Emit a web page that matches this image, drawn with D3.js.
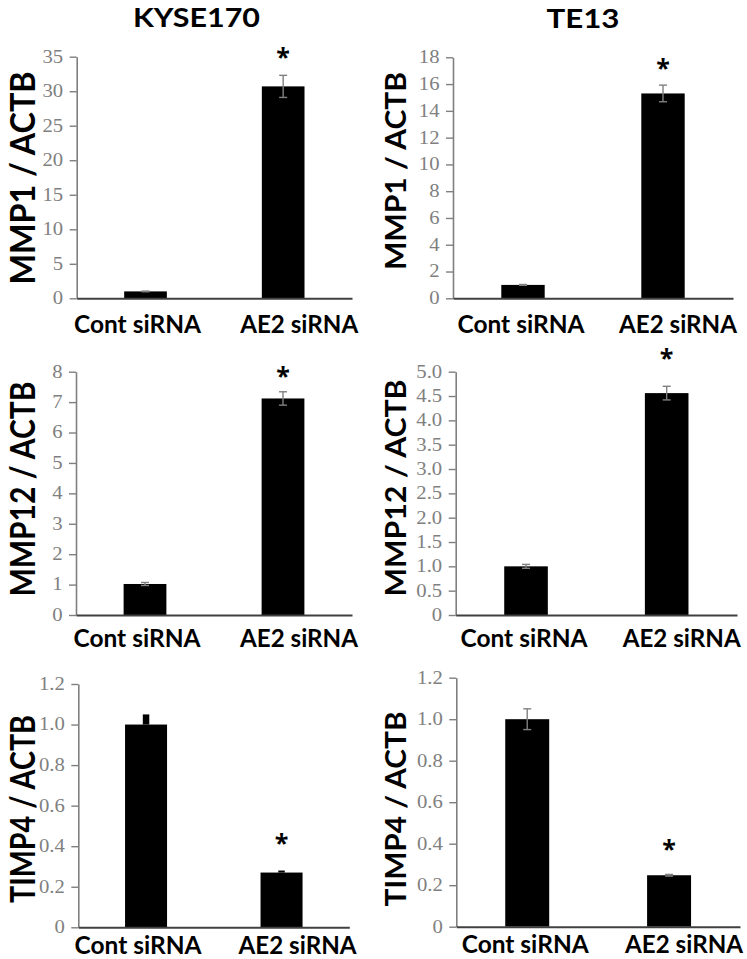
<!DOCTYPE html>
<html>
<head>
<meta charset="utf-8">
<script src="https://cdn.jsdelivr.net/npm/d3@7"></script>
<style>
  html, body { margin: 0; padding: 0; background: #ffffff; }
  svg { display: block; }
  .ticklab { font-family: "Liberation Serif", "Times New Roman", "DejaVu Serif", serif; }
</style>
</head>
<body>
<script>
// ---------------- DATA ----------------
const categories = ["Cont siRNA", "AE2 siRNA"];
const cellLines = ["KYSE170", "TE13"];
const yLabels = ["MMP1 / ACTB", "MMP1 / ACTB", "MMP12 / ACTB", "MMP12 / ACTB", "TIMP4 / ACTB", "TIMP4 / ACTB"];

const mmp1Kyse170 = [1.0, 30.7];
const mmp1Kyse170Err = [0.05, 1.6];
const mmp1Te13 = [1.0, 15.3];
const mmp1Te13Err = [0.03, 0.62];
const mmp12Kyse170 = [1.02, 7.12];
const mmp12Kyse170Err = [0.05, 0.22];
const mmp12Te13 = [1.0, 4.56];
const mmp12Te13Err = [0.04, 0.14];
const timp4Kyse170 = [1.0, 0.27];
const timp4Kyse170Err = [0.05, 0.01];
const timp4Te13 = [1.0, 0.248];
const timp4Te13Err = [0.05, 0.004];

const significant = [false, true]; // asterisk on AE2 siRNA in every panel

const ticksMMP1Kyse170 = [0, 5, 10, 15, 20, 25, 30, 35];
const ticksMMP1Te13 = [0, 2, 4, 6, 8, 10, 12, 14, 16, 18];
const ticksMMP12Kyse170 = [0, 1, 2, 3, 4, 5, 6, 7, 8];
const ticksMMP12Te13 = [0, 0.5, 1.0, 1.5, 2.0, 2.5, 3.0, 3.5, 4.0, 4.5, 5.0];
const ticksTIMP4 = [0, 0.2, 0.4, 0.6, 0.8, 1.0, 1.2];

const labelsMMP1Kyse170 = ["0", "5", "10", "15", "20", "25", "30", "35"];
const labelsMMP1Te13 = ["0", "2", "4", "6", "8", "10", "12", "14", "16", "18"];
const labelsMMP12Kyse170 = ["0", "1", "2", "3", "4", "5", "6", "7", "8"];
const labelsMMP12Te13 = ["0", "0.5", "1.0", "1.5", "2.0", "2.5", "3.0", "3.5", "4.0", "4.5", "5.0"];
const labelsTIMP4 = ["0", "0.2", "0.4", "0.6", "0.8", "1.0", "1.2"];

// ---------------- LAYOUT ----------------
const W = 747, H = 959;
const panels = [
  { values: mmp1Kyse170, errs: mmp1Kyse170Err, ticks: ticksMMP1Kyse170, labels: labelsMMP1Kyse170, ylab: yLabels[0],
    box: { l: 76.7, r: 352, t: 56.7, b: 298.3 }, col: 0, row: 0, starGap: 22, errStyle: "thin", ylabLen: 213, ylabY: 178 },
  { values: mmp1Te13, errs: mmp1Te13Err, ticks: ticksMMP1Te13, labels: labelsMMP1Te13, ylab: yLabels[1],
    box: { l: 453, r: 733, t: 57.3, b: 298.3 }, col: 1, row: 0, starGap: 21, errStyle: "thin", ylabLen: 198, ylabY: 171 },
  { values: mmp12Kyse170, errs: mmp12Kyse170Err, ticks: ticksMMP12Kyse170, labels: labelsMMP12Kyse170, ylab: yLabels[2],
    box: { l: 76, r: 352, t: 371.7, b: 615 }, col: 0, row: 1, starGap: 20, errStyle: "thin", ylabLen: 215, ylabY: 489 },
  { values: mmp12Te13, errs: mmp12Te13Err, ticks: ticksMMP12Te13, labels: labelsMMP12Te13, ylab: yLabels[3],
    box: { l: 455.7, r: 737, t: 371.7, b: 615 }, col: 1, row: 1, starGap: 32, errStyle: "thin", ylabLen: 217, ylabY: 488 },
  { values: timp4Kyse170, errs: timp4Kyse170Err, ticks: ticksTIMP4, labels: labelsTIMP4, ylab: yLabels[4],
    box: { l: 78.3, r: 349.3, t: 684, b: 927.3 }, col: 0, row: 2, starGap: 32, errStyle: "thick", ylabLen: 188, ylabY: 809 },
  { values: timp4Te13, errs: timp4Te13Err, ticks: ticksTIMP4, labels: labelsTIMP4, ylab: yLabels[5],
    box: { l: 456.3, r: 740, t: 677.7, b: 926.7 }, col: 1, row: 2, starGap: 29, errStyle: "thin", ylabLen: 195, ylabY: 809 }
];

const colStyle = [
  { ylabBaseX: 34.5, ylabSize: 34, catDx: [-8, 16] },
  { ylabBaseX: 406, ylabSize: 28, catDx: [-2, 15] }
];
const rowCatOffset = [35, 32, 26.5];
const titles = [
  { x: 196.5, y: 27, len: 127 },
  { x: 583, y: 27.5, len: 73 }
];

const boldFont = "Lato, 'Open Sans', sans-serif";
const starFont = "'Open Sans', 'Noto Sans', sans-serif";
const tickScaleX = 1.15;

const svg = d3.select("body").append("svg").attr("width", W).attr("height", H);

// titles
cellLines.forEach((name, i) => {
  svg.append("text")
    .attr("x", titles[i].x).attr("y", titles[i].y)
    .attr("text-anchor", "middle")
    .style("font-family", boldFont).style("font-weight", 700)
    .style("font-size", "27px")
    .attr("textLength", titles[i].len).attr("lengthAdjust", "spacingAndGlyphs")
    .attr("fill", "#000")
    .text(name);
});

panels.forEach((p, pi) => {
  const maxV = p.ticks[p.ticks.length - 1];
  const y = d3.scaleLinear().domain([0, maxV]).range([p.box.b, p.box.t]);
  const x = d3.scaleBand().domain(categories).range([p.box.l, p.box.r])
    .paddingInner(0.69).paddingOuter(0.345);
  const g = svg.append("g");

  // y axis
  const yAxis = d3.axisLeft(y).tickValues(p.ticks)
    .tickFormat((d, i) => p.labels[i]).tickSize(7).tickPadding(5).tickSizeOuter(0);
  const ya = g.append("g").attr("transform", `translate(${p.box.l},0)`).call(yAxis);
  ya.attr("font-family", null).attr("font-size", null);
  ya.select(".domain").attr("stroke", "#7f7f7f").attr("stroke-width", 1.6);
  ya.selectAll(".tick line").attr("stroke", "#7f7f7f").attr("stroke-width", 1.4);
  ya.selectAll(".tick text")
    .attr("class", "ticklab")
    .style("font-size", "18px")
    .attr("fill", "#808080")
    .attr("x", -13.5 / tickScaleX)
    .attr("dy", "0.3em")
    .attr("transform", `scale(${tickScaleX},1)`);

  // bars
  g.selectAll("rect.bar").data(p.values).join("rect")
    .attr("class", "bar")
    .attr("x", (d, i) => x(categories[i]))
    .attr("width", x.bandwidth())
    .attr("y", d => y(d))
    .attr("height", d => y(0) - y(d))
    .attr("fill", "#000");

  // error bars
  p.values.forEach((v, i) => {
    const cx = x(categories[i]) + x.bandwidth() / 2;
    const e = p.errs[i];
    if (p.errStyle === "thick") {
      g.append("line").attr("x1", cx).attr("x2", cx)
        .attr("y1", y(v)).attr("y2", y(v + e))
        .attr("stroke", "#000").attr("stroke-width", 6.5);
    } else {
      const ec = "#808080";
      g.append("line").attr("x1", cx).attr("x2", cx)
        .attr("y1", y(v - e)).attr("y2", y(v + e))
        .attr("stroke", ec).attr("stroke-width", 1.4);
      [v - e, v + e].forEach(t => {
        g.append("line").attr("x1", cx - 4).attr("x2", cx + 4)
          .attr("y1", y(t)).attr("y2", y(t))
          .attr("stroke", ec).attr("stroke-width", 1.4);
      });
    }
    if (significant[i]) {
      g.append("text")
        .attr("x", cx).attr("y", y(v + e) - p.starGap + 13)
        .attr("text-anchor", "middle")
        .style("font-family", starFont).style("font-weight", 700)
        .style("font-size", "25px").attr("fill", "#000")
        .text("*");
    }
  });

  // x axis line
  const xAxis = d3.axisBottom(x).tickSize(0).tickFormat("");
  const xa = g.append("g").attr("transform", `translate(0,${y(0)})`).call(xAxis);
  xa.select(".domain").attr("stroke", "#404040").attr("stroke-width", 2);
  xa.selectAll(".tick").remove();

  // category labels
  const cs = colStyle[p.col];
  categories.forEach((c, i) => {
    g.append("text")
      .attr("x", x(c) + x.bandwidth() / 2 + cs.catDx[i])
      .attr("y", y(0) + rowCatOffset[p.row])
      .attr("text-anchor", "middle")
      .style("font-family", boldFont).style("font-weight", 700)
      .style("font-size", "25px")
      .attr("textLength", i === 0 ? 127 : 118).attr("lengthAdjust", "spacingAndGlyphs")
      .attr("fill", "#000")
      .text(c);
  });

  // y label
  g.append("text")
    .attr("transform", `translate(${cs.ylabBaseX},${p.ylabY}) rotate(-90)`)
    .attr("text-anchor", "middle")
    .style("font-family", boldFont).style("font-weight", 700)
    .style("font-size", cs.ylabSize + "px")
    .attr("textLength", p.ylabLen).attr("lengthAdjust", "spacingAndGlyphs")
    .attr("fill", "#000")
    .text(p.ylab);
});
</script>
</body>
</html>
